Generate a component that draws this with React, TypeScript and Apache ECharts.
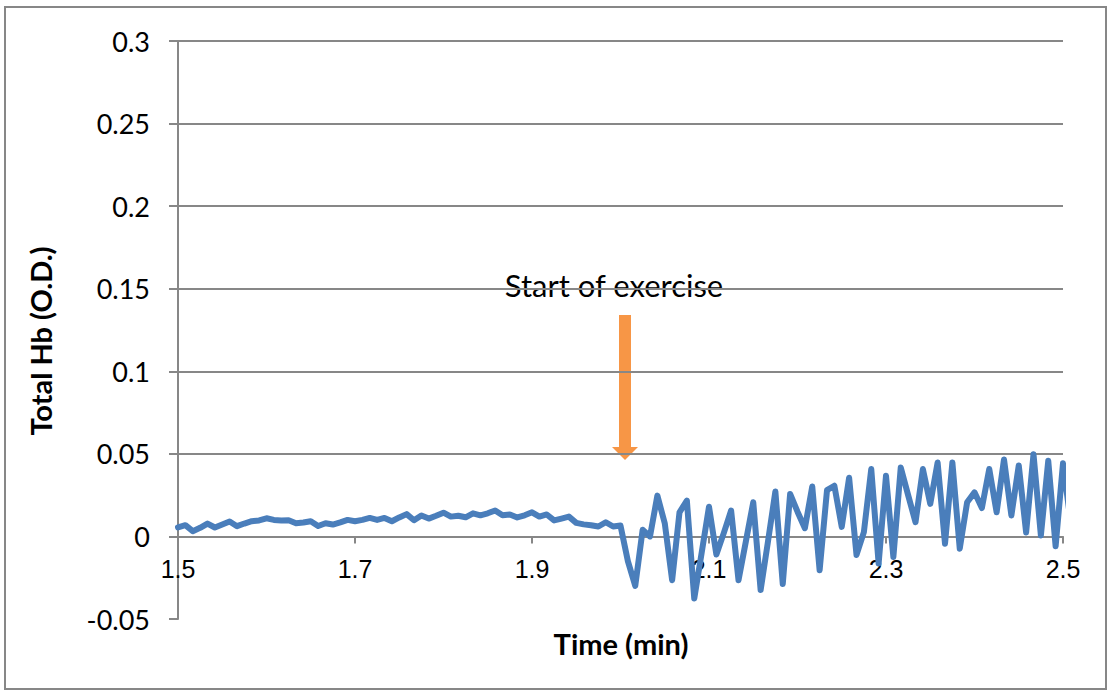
import React, { useEffect, useRef } from "react";
import * as echarts from "echarts";

// Sampling of the recording (minutes)
const START_TIME = 1.5;
const SAMPLE_STEP = 1 / 120;

// Total Hb (O.D.) samples
const totalHb: number[] = [
  0.0055, 0.0068, 0.0032, 0.0052, 0.0078, 0.0054, 0.0072, 0.009, 0.0062, 0.0078,
  0.0092, 0.0097, 0.011, 0.01, 0.0097, 0.0098, 0.008, 0.0084, 0.0092, 0.0063,
  0.008, 0.0072, 0.0085, 0.01, 0.0092, 0.01, 0.0112, 0.01, 0.0112, 0.0092,
  0.0115, 0.0135, 0.0098, 0.0127, 0.0108, 0.0125, 0.0144, 0.012, 0.0125, 0.0116,
  0.014, 0.0128, 0.014, 0.0157, 0.0128, 0.0133, 0.0115, 0.0128, 0.0146, 0.012,
  0.0133, 0.0097, 0.0108, 0.012, 0.0082, 0.0073, 0.0068, 0.006, 0.0086, 0.006,
  0.0066, -0.015, -0.03, 0.004, 0.0, 0.0247, 0.008, -0.0265, 0.0146, 0.0217,
  -0.0376, -0.01, 0.018, -0.011, 0.002, 0.0157, -0.0265, -0.003, 0.0207, -0.0325,
  -0.003, 0.0272, -0.0288, 0.0257, 0.015, 0.005, 0.0302, -0.0205, 0.028, 0.0307,
  0.0058, 0.0355, -0.0112, 0.0026, 0.0408, -0.0164, 0.0367, -0.0125, 0.0418, 0.025,
  0.0086, 0.0408, 0.0197, 0.0448, -0.0044, 0.0448, -0.0074, 0.0207, 0.0267, 0.0172,
  0.0408, 0.0146, 0.0466, 0.0127, 0.043, 0.0024, 0.0498, 0.0006, 0.0458, -0.006,
  0.0443, 0.01,
];

const xTickValues = [1.5, 1.7, 1.9, 2.1, 2.3, 2.5];
const xMin = 1.5;
const xMax = 2.5;
const yMin = -0.05;
const yMax = 0.3;
const yStep = 0.05;

const xTitle = "Time (min)";
const yTitle = "Total Hb (O.D.)";
const annotation = "Start of exercise";

const GRAY = "#878787";
const GRID_TOP = 41;
const GRID_BOTTOM = 76;
const CHART_H = 695;

export default function App() {
  const ref = useRef<HTMLDivElement>(null);

  useEffect(() => {
    if (!ref.current) return;
    const chart = echarts.init(ref.current, null, { renderer: "svg" });
    const data = totalHb.map((v, i) => [START_TIME + i * SAMPLE_STEP, v]);

    // lift the horizontal axis (line, ticks, labels) up to y = 0, as in the original
    const plotH = CHART_H - GRID_TOP - GRID_BOTTOM;
    const zeroOffset = -((0 - yMin) / (yMax - yMin)) * plotH;

    chart.setOption({
      animation: false,
      backgroundColor: "#ffffff",
      grid: {
        left: 178,
        right: 48,
        top: GRID_TOP,
        bottom: GRID_BOTTOM,
        containLabel: false,
        outerBoundsMode: "none",
      },
      xAxis: {
        type: "value",
        min: xMin,
        max: xMax,
        interval: 0.1,
        position: "bottom",
        offset: zeroOffset,
        axisLine: { show: true, onZero: false, lineStyle: { color: GRAY, width: 2 } },
        axisTick: {
          show: true,
          customValues: xTickValues,
          length: 7,
          lineStyle: { color: GRAY, width: 2 },
        },
        axisLabel: {
          customValues: xTickValues,
          formatter: (v: number) => v.toFixed(1),
          fontFamily: "Liberation Sans",
          fontSize: 25,
          color: "#000",
          margin: 20,
        },
        splitLine: { show: false },
      },
      yAxis: {
        type: "value",
        min: yMin,
        max: yMax,
        interval: yStep,
        axisLine: { show: true, onZero: false, lineStyle: { color: GRAY, width: 2 } },
        axisTick: { show: true, length: 9, lineStyle: { color: GRAY, width: 2 } },
        axisLabel: {
          formatter: (v: number) => String(parseFloat(v.toFixed(2))),
          fontFamily: "Lato",
          fontSize: 27,
          color: "#000",
          margin: 28,
        },
        splitLine: {
          show: true,
          showMinLine: false,
          lineStyle: { color: GRAY, width: 2 },
        },
      },
      series: [
        {
          type: "line",
          data,
          showSymbol: false,
          symbol: "none",
          clip: true,
          lineStyle: { color: "#4A7EBB", width: 6, join: "round", cap: "round" },
        },
      ],
      graphic: [
        {
          type: "rect",
          shape: { x: 5, y: 7, width: 1101, height: 682 },
          style: { fill: "none", stroke: GRAY, lineWidth: 2 },
          silent: true,
        },
        {
          type: "text",
          x: 621,
          y: 643,
          style: {
            text: xTitle,
            fontFamily: "Lato",
            fontWeight: "bold",
            fontSize: 29,
            fill: "#000",
            align: "center",
            verticalAlign: "middle",
          },
        },
        {
          type: "text",
          x: 40,
          y: 341,
          rotation: Math.PI / 2,
          style: {
            text: yTitle,
            fontFamily: "Lato",
            fontWeight: "bold",
            fontSize: 29,
            fill: "#000",
            align: "center",
            verticalAlign: "middle",
          },
        },
        {
          type: "text",
          x: 614,
          y: 285,
          style: {
            text: annotation,
            fontFamily: "Lato",
            fontSize: 31,
            fill: "#000",
            align: "center",
            verticalAlign: "middle",
          },
        },
        {
          type: "rect",
          shape: { x: 619, y: 315, width: 12, height: 133 },
          style: { fill: "#F79646" },
        },
        {
          type: "polygon",
          shape: { points: [[612, 447], [638, 447], [625, 460]] },
          style: { fill: "#F79646" },
        },
      ],
    });

    return () => chart.dispose();
  }, []);

  return (
    <div
      ref={ref}
      style={{ position: "fixed", left: 0, top: 0, width: 1111, height: 695, background: "#fff" }}
    />
  );
}
